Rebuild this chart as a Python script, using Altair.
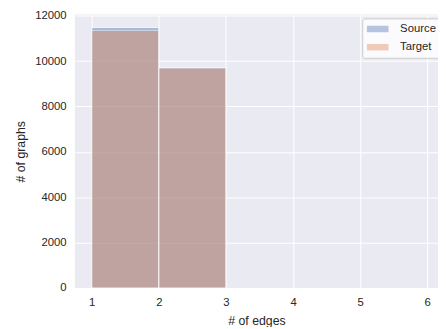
import altair as alt
import pandas as pd

series = ["Source", "Source", "Target", "Target"]
bin_start = [1, 2, 1, 2]
bin_end = [2, 3, 2, 3]
counts = [11480, 9710, 11350, 9700]

df = pd.DataFrame({"series": series, "start": bin_start, "end": bin_end, "count": counts})

font = "Liberation Sans"
txt = "#262626"

chart = alt.Chart(df).mark_rect(opacity=0.4, stroke="white", strokeWidth=1).encode(
    x=alt.X("start:Q", scale=alt.Scale(domain=[0.75, 6.16], nice=False, zero=False),
            axis=alt.Axis(values=[1, 2, 3, 4, 5, 6], title="# of edges", format="d",
                          labelPadding=9, titlePadding=7)),
    x2="end:Q",
    y=alt.Y("count:Q", scale=alt.Scale(domain=[0, 12054], nice=False),
            axis=alt.Axis(values=[0, 2000, 4000, 6000, 8000, 10000, 12000], title="# of graphs",
                          format="d", labelPadding=9, titlePadding=7)),
    y2=alt.datum(0),
    color=alt.Color("series:N", scale=alt.Scale(domain=["Source", "Target"], range=["#4C72B0", "#DD8452"]),
                    legend=alt.Legend(title=None, orient="none", legendX=292, legendY=4,
                                      symbolType="M-2,-0.6H2V0.6H-2Z", symbolSize=121,
                                      symbolOpacity=0.4, symbolStrokeWidth=0, symbolOffset=5,
                                      labelOffset=17, padding=5, rowPadding=5.5,
                                      fillColor="rgba(255,255,255,0.8)", strokeColor="#cccccc",
                                      cornerRadius=3, labelFontSize=11.5, labelFont=font, labelColor=txt)),
    order=alt.Order("series:N"),
).properties(
    width=369, height=278,
    background="white",
    autosize=alt.AutoSizeParams(type="none"),
    padding={"left": 68, "top": 4, "right": 0, "bottom": 37},
).configure_view(
    fill="#EAEAF2", stroke=None
).configure_axis(
    grid=True, gridColor="white", gridWidth=1, domain=False, ticks=False,
    labelFont=font, labelFontSize=11.5, labelColor=txt,
    titleFont=font, titleFontSize=12.5, titleColor=txt, titleFontWeight="normal",
)

chart.save("out.html", embed_options={"renderer": "svg", "actions": False})
